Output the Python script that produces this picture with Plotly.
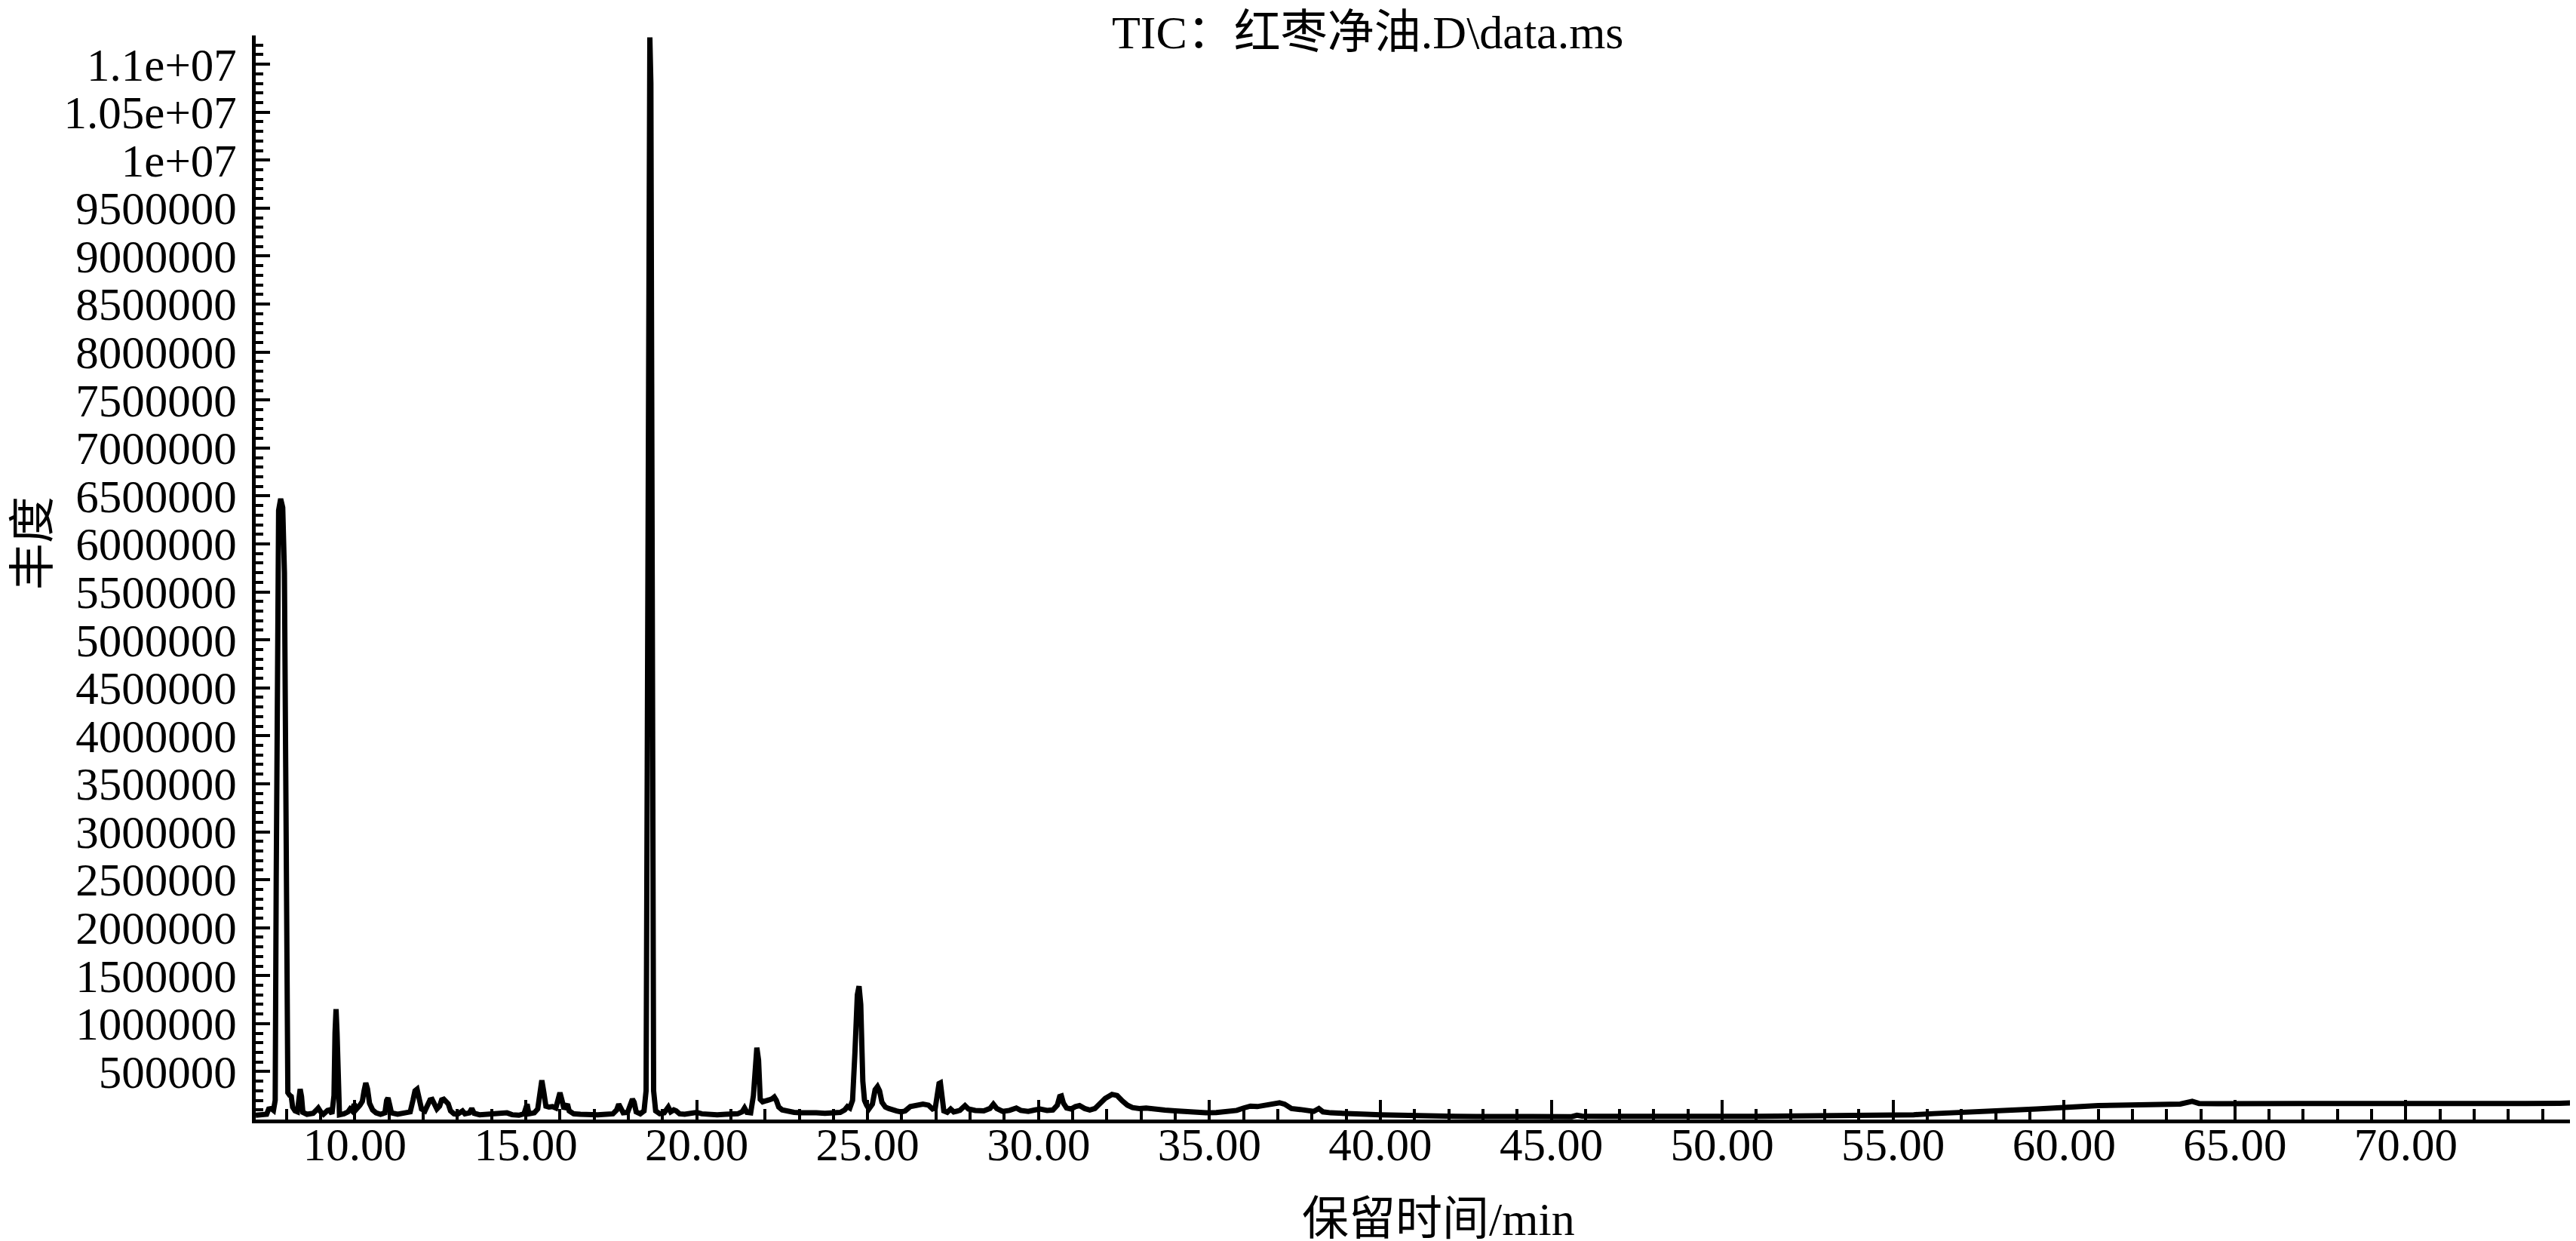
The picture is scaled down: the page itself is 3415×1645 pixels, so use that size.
import plotly.graph_objects as go

# Retention time (min) and abundance
rt = [7.10, 7.30, 7.42, 7.48, 7.55, 7.62, 7.67, 7.70, 7.73, 7.77, 7.83, 7.89, 7.94, 7.98, 8.01, 8.04, 8.10, 8.14, 8.18, 8.25,
      8.32, 8.36, 8.40, 8.44, 8.48, 8.60, 8.78, 8.88, 8.93, 9.00, 9.08, 9.20, 9.26, 9.33, 9.39, 9.42, 9.45, 9.48, 9.51, 9.55,
      9.68, 9.80, 9.86, 9.92, 9.98, 10.05, 10.15, 10.22, 10.27, 10.32, 10.37, 10.43, 10.52, 10.62, 10.75, 10.88, 10.93, 10.97, 11.02, 11.07,
      11.25, 11.45, 11.62, 11.70, 11.76, 11.82, 11.88, 11.95, 12.05, 12.13, 12.20, 12.26, 12.33, 12.40, 12.48, 12.54, 12.60, 12.67, 12.73, 12.80,
      12.90, 13.00, 13.10, 13.15, 13.22, 13.35, 13.42, 13.49, 13.65, 13.85, 14.10, 14.30, 14.45, 14.60, 14.80, 14.95, 15.00, 15.04, 15.09, 15.25,
      15.35, 15.41, 15.47, 15.53, 15.59, 15.68, 15.78, 15.88, 15.94, 16.00, 16.06, 16.12, 16.18, 16.22, 16.27, 16.40, 16.60, 16.85, 17.10, 17.35,
      17.55, 17.66, 17.72, 17.78, 17.85, 17.98, 18.06, 18.12, 18.17, 18.23, 18.35, 18.46, 18.52, 18.56, 18.60, 18.63, 18.66, 18.70, 18.74, 18.80,
      18.92, 19.05, 19.12, 19.17, 19.24, 19.33, 19.40, 19.50, 19.65, 19.85, 20.00, 20.15, 20.35, 20.60, 20.85, 21.05, 21.20, 21.33, 21.40, 21.47,
      21.58, 21.66, 21.71, 21.76, 21.81, 21.86, 21.93, 22.02, 22.12, 22.20, 22.27, 22.33, 22.40, 22.50, 22.65, 22.85, 23.05, 23.30, 23.50, 23.75,
      24.00, 24.20, 24.33, 24.41, 24.48, 24.56, 24.63, 24.70, 24.75, 24.80, 24.86, 24.91, 24.97, 25.04, 25.14, 25.22, 25.29, 25.35, 25.42, 25.52,
      25.62, 25.72, 25.85, 25.98, 26.10, 26.25, 26.45, 26.62, 26.78, 26.90, 26.98, 27.04, 27.09, 27.13, 27.18, 27.23, 27.33, 27.43, 27.52, 27.70,
      27.85, 27.95, 28.15, 28.40, 28.58, 28.68, 28.78, 28.95, 29.15, 29.35, 29.48, 29.70, 29.90, 30.05, 30.25, 30.42, 30.55, 30.62, 30.67, 30.73,
      30.82, 30.95, 31.08, 31.20, 31.35, 31.50, 31.65, 31.80, 31.95, 32.15, 32.30, 32.45, 32.60, 32.75, 32.95, 33.15, 33.40, 33.70, 34.00, 34.30,
      34.60, 34.90, 35.20, 35.50, 35.80, 36.00, 36.20, 36.40, 36.60, 36.85, 37.05, 37.20, 37.40, 37.65, 37.90, 38.05, 38.20, 38.32, 38.55, 38.85,
      39.20, 39.60, 40.00, 40.40, 40.80, 41.20, 41.70, 42.20, 42.80, 43.40, 44.00, 44.60, 45.20, 45.60, 45.75, 45.90, 46.50, 47.20, 48.00, 48.80,
      49.40, 50.20, 51.00, 51.80, 52.60, 53.40, 54.20, 55.00, 55.60, 56.20, 56.80, 57.40, 58.00, 58.60, 59.20, 59.80, 60.40, 61.00, 61.60, 62.20,
      62.80, 63.40, 63.75, 63.95, 64.50, 65.50, 66.50, 67.50, 68.50, 69.50, 70.50, 71.50, 72.50, 73.50, 74.50, 75.00]

abund = [45000, 48000, 55000, 110000, 115000, 95000, 200000, 2500000, 5600000, 6350000, 6470000, 6380000, 5700000, 3000000, 700000, 280000, 250000, 240000, 130000, 90000,
         80000, 240000, 317000, 240000, 75000, 55000, 65000, 100000, 120000, 80000, 55000, 95000, 100000, 60000, 250000, 900000, 1150000, 900000, 250000, 50000,
         60000, 80000, 110000, 90000, 160000, 110000, 150000, 190000, 300000, 382000, 320000, 170000, 100000, 70000, 55000, 70000, 200000, 225000, 150000, 70000,
         55000, 65000, 80000, 200000, 300000, 317000, 230000, 110000, 90000, 150000, 205000, 210000, 140000, 110000, 140000, 205000, 212000, 185000, 165000, 90000,
         60000, 55000, 85000, 90000, 60000, 70000, 115000, 65000, 50000, 55000, 50000, 55000, 70000, 50000, 45000, 60000, 150000, 160000, 60000, 70000,
         110000, 300000, 408000, 280000, 140000, 130000, 135000, 120000, 200000, 280000, 200000, 110000, 140000, 160000, 90000, 60000, 55000, 50000, 50000, 55000,
         60000, 100000, 160000, 120000, 70000, 75000, 150000, 212000, 180000, 80000, 60000, 90000, 300000, 5000000, 10800000, 11280000, 10800000, 5000000, 300000, 90000,
         60000, 70000, 120000, 130000, 80000, 100000, 90000, 60000, 55000, 60000, 75000, 60000, 50000, 50000, 55000, 55000, 60000, 80000, 120000, 75000,
         70000, 250000, 650000, 749000, 620000, 210000, 185000, 190000, 205000, 215000, 235000, 200000, 130000, 100000, 85000, 75000, 70000, 75000, 70000, 65000,
         65000, 75000, 100000, 135000, 120000, 200000, 700000, 1300000, 1390000, 1200000, 400000, 200000, 150000, 110000, 160000, 310000, 343000, 300000, 180000, 130000,
         115000, 110000, 90000, 80000, 90000, 135000, 150000, 160000, 150000, 110000, 120000, 280000, 375000, 382000, 250000, 90000, 75000, 110000, 80000, 95000,
         145000, 110000, 95000, 90000, 115000, 160000, 115000, 85000, 95000, 120000, 95000, 85000, 100000, 110000, 95000, 100000, 150000, 240000, 246000, 170000,
         120000, 110000, 135000, 145000, 115000, 100000, 115000, 160000, 220000, 262000, 250000, 195000, 150000, 125000, 115000, 120000, 105000, 98000, 90000, 82000,
         75000, 70000, 72000, 80000, 95000, 120000, 140000, 135000, 145000, 155000, 175000, 160000, 115000, 105000, 95000, 85000, 115000, 80000, 70000, 62000,
         58000, 55000, 50000, 45000, 42000, 40000, 36000, 34000, 32000, 30000, 26000, 24000, 24000, 30000, 45000, 35000, 33000, 31000, 30000, 29000,
         33000, 34000, 34000, 35000, 35000, 36000, 38000, 42000, 50000, 62000, 75000, 86000, 95000, 101000, 110000, 125000, 136000, 145000, 150000, 155000,
         158000, 162000, 190000, 168000, 166000, 165000, 165000, 165000, 166000, 167000, 167000, 166000, 167000, 168000, 170000, 175000]

x_tick_vals = [10, 15, 20, 25, 30, 35, 40, 45, 50, 55, 60, 65, 70, 75]
x_tick_text = ["10.00", "15.00", "20.00", "25.00", "30.00", "35.00", "40.00", "45.00", "50.00",
               "55.00", "60.00", "65.00", "70.00", ""]
y_tick_vals = [0, 500000, 1000000, 1500000, 2000000, 2500000, 3000000, 3500000, 4000000, 4500000,
               5000000, 5500000, 6000000, 6500000, 7000000, 7500000, 8000000, 8500000, 9000000,
               9500000, 10000000, 10500000, 11000000]
y_tick_text = ["", "500000", "1000000", "1500000", "2000000", "2500000", "3000000", "3500000", "4000000",
               "4500000", "5000000", "5500000", "6000000", "6500000", "7000000", "7500000", "8000000",
               "8500000", "9000000", "9500000", "1e+07", "1.05e+07", "1.1e+07"]

title_text = "TIC：红枣净油.D\\data.ms"
x_title = "保留时间/min"
y_title = "丰度"

FONT = "Liberation Serif, Noto Sans CJK SC, serif"
W, H = 3415, 1645
ML, MR, MT, MB = 331, 7, 39, 169

fig = go.Figure()
fig.add_trace(go.Scatter(x=rt, y=abund, mode="lines",
                         line=dict(color="black", width=7), showlegend=False))

fig.update_layout(
    width=W, height=H,
    margin=dict(l=ML, r=MR, t=MT, b=MB, pad=0),
    paper_bgcolor="white", plot_bgcolor="white",
    font=dict(family=FONT, color="black", size=60),
)

fig.update_xaxes(
    range=[7.1, 75.0], showgrid=False, zeroline=False,
    showline=True, linecolor="black", linewidth=5,
    tickmode="array", tickvals=x_tick_vals, ticktext=x_tick_text,
    ticks="inside", ticklen=26, tickwidth=4, tickcolor="black",
    ticklabelstandoff=-24,
    tickfont=dict(family=FONT, size=61, color="black"),
    minor=dict(ticks="inside", ticklen=14, tickwidth=4, tickcolor="black", dtick=1, tick0=0, showgrid=False),
)
fig.update_yaxes(
    range=[0, 11300000], showgrid=False, zeroline=False,
    showline=True, linecolor="black", linewidth=5,
    tickmode="array", tickvals=y_tick_vals, ticktext=y_tick_text,
    ticks="inside", ticklen=19, tickwidth=4, tickcolor="black",
    ticklabelstandoff=8,
    tickfont=dict(family=FONT, size=61, color="black"),
    minor=dict(ticks="inside", ticklen=10, tickwidth=4, tickcolor="black", dtick=100000, tick0=0, showgrid=False),
)

pw = W - ML - MR
ph = H - MT - MB
fig.add_annotation(text=title_text, xref="paper", yref="paper",
                   x=(1805 - ML) / pw, y=1 + (MT - 35) / ph, xanchor="center", yanchor="middle",
                   showarrow=False, font=dict(family=FONT, size=62, color="black"))
fig.add_annotation(text=x_title, xref="paper", yref="paper",
                   x=(1899 - ML) / pw, y=-(1608 - (H - MB)) / ph, xanchor="center", yanchor="middle",
                   showarrow=False, font=dict(family=FONT, size=62, color="black"))
fig.add_annotation(text=y_title, xref="paper", yref="paper",
                   x=(36 - ML) / pw, y=((H - MB) - 712) / ph, xanchor="center", yanchor="middle",
                   textangle=-90, showarrow=False, font=dict(family=FONT, size=62, color="black"))

fig.write_html("out.html")
